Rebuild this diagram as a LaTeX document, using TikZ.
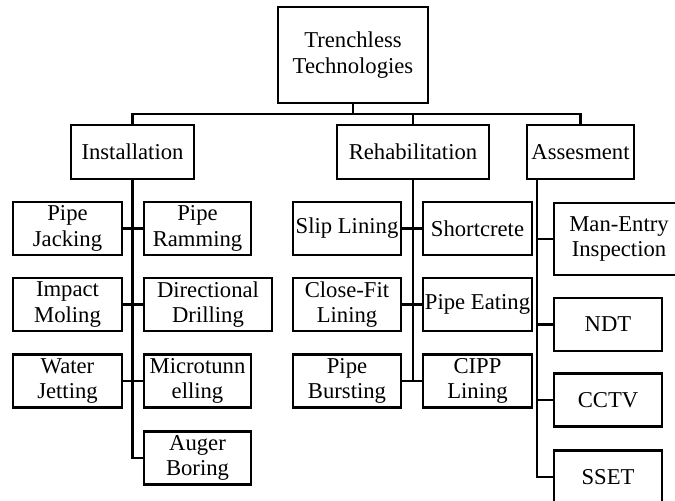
\documentclass[tikz,border=0pt]{standalone}
\usepackage{fontspec}
\setmainfont{Liberation Serif}
\usepackage{tikz}
\usetikzlibrary{positioning, calc}

\begin{document}
\begin{tikzpicture}[
  x=0.02cm, y=-0.02cm,
  box/.style={draw, line width=1.2pt, inner sep=1pt, minimum height=1.06cm, align=center,
    font=\fontsize{12.9}{14.6}\selectfont},
  wire/.style={line width=1.2pt}
]
\useasboundingbox (0,0) rectangle (675,500);
% top
\node[box, minimum width=3cm, minimum height=1.92cm] (root) at (353,55) {Trenchless\\Technologies};
\node[box, minimum width=2.46cm, minimum height=1.08cm] (inst) at (132.5,152) {Installation};
\node[box, minimum width=3.04cm, minimum height=1.08cm] (reha) at (413,152) {Rehabilitation};
\node[box, minimum width=2.14cm, minimum height=1.08cm] (asse) at (580.5,152) {Assesment};
\coordinate (bus) at (353,114);
\draw[wire] (root.south) -- (bus);
\draw[wire] (inst.north) |- (bus) -| (asse.north);
\draw[wire] (reha.north) -- (reha.north |- bus);

% installation
\node[box, minimum width=2.18cm] (jack) at (67.5,228.5) {Pipe\\Jacking};
\node[box, minimum width=2.14cm] (ramm) at (197.5,228.5) {Pipe\\Ramming};
\node[box, minimum width=2.18cm] (moli) at (67.5,304.5) {Impact\\Moling};
\node[box, minimum width=2.56cm] (dril) at (208,304.5) {Directional\\Drilling};
\node[box, minimum width=2.18cm] (jett) at (67.5,381) {Water\\Jetting};
\node[box, minimum width=2.14cm] (micr) at (197.5,381) {Microtunn\\elling};
\node[box, minimum width=2.14cm] (auge) at (197.5,458) {Auger\\Boring};
\draw[wire] (inst.south) |- (auge.west);
\draw[wire] (jack.east) -- (ramm.west);
\draw[wire] (moli.east) -- (dril.west);
\draw[wire] (jett.east) -- (micr.west);

% rehabilitation
\node[box, minimum width=2.16cm] (slip) at (347,228.5) {Slip Lining};
\node[box, minimum width=2.18cm] (shot) at (477.5,228.5) {Shortcrete};
\node[box, minimum width=2.16cm] (clos) at (347,304.5) {Close-Fit\\Lining};
\node[box, minimum width=2.18cm] (eati) at (477.5,304.5) {Pipe Eating};
\node[box, minimum width=2.16cm] (burs) at (347,381) {Pipe\\Bursting};
\node[box, minimum width=2.18cm] (cipp) at (477.5,381) {CIPP\\Lining};
\draw[wire] (reha.south) -- (reha.south |- burs.east);
\draw[wire] (slip.east) -- (shot.west);
\draw[wire] (clos.east) -- (eati.west);
\draw[wire] (burs.east) -- (cipp.west);

% assesment
\node[box, minimum width=2.6cm, minimum height=1.44cm] (mane) at (619,239) {Man-Entry\\Inspection};
\node[box, minimum width=2.16cm] (ndt) at (608,324.5) {NDT};
\node[box, minimum width=2.16cm] (cctv) at (608,400) {CCTV};
\node[box, minimum width=2.16cm] (sset) at (608,477) {SSET};
\coordinate (atrunk) at (537.3,179);
\draw[wire] (atrunk) |- (sset.west);
\draw[wire] (atrunk |- mane.west) -- (mane.west);
\draw[wire] (atrunk |- ndt.west) -- (ndt.west);
\draw[wire] (atrunk |- cctv.west) -- (cctv.west);
\end{tikzpicture}
\end{document}
